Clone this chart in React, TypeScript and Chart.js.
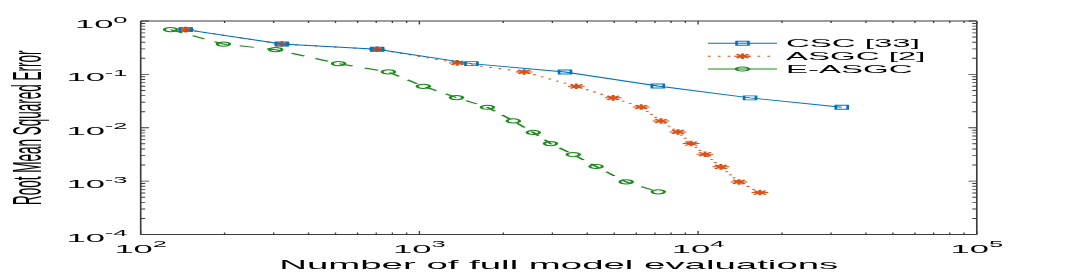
import React, { useEffect, useRef } from 'react';
import { Chart, registerables } from 'chart.js';
import { drawPoint } from 'chart.js/helpers';

Chart.register(...registerables);

// ---------------- data ----------------
const CSC_X = [145, 321, 705, 1537, 3329, 7169, 15361, 32769];
const CSC_Y = [0.69, 0.37, 0.295, 0.159, 0.111, 0.0607, 0.0363, 0.0242];

const ASGC_X = [145, 321, 705, 1368, 2377, 3656, 4955, 6250, 7360, 8470, 9440, 10590, 12070, 14020, 16670];
const ASGC_Y = [0.69, 0.37, 0.295, 0.164, 0.111, 0.0598, 0.0363, 0.0245, 0.0134, 0.00834, 0.00506, 0.00319, 0.00185, 0.000966, 0.000611];

const EASGC_X = [128, 198, 305, 513, 774, 1033, 1358, 1754, 2173, 2563, 2953, 3565, 4305, 5521, 7194];
const EASGC_Y = [0.69, 0.37, 0.29, 0.159, 0.111, 0.0598, 0.0368, 0.0242, 0.0134, 0.00816, 0.00506, 0.00315, 0.00188, 0.000966, 0.000629];

const SERIES_LABELS = ['CSC [33]', 'ASGC [2]', 'E-ASGC'];
const X_TICK_EXPONENTS = [2, 3, 4, 5];
const Y_TICK_EXPONENTS = [0, -1, -2, -3, -4];
const X_TITLE = 'Number of full model evaluations';
const Y_TITLE = 'Root Mean Squared Error';

// ---------------- styling ----------------
const FONT = "'Liberation Sans', Arial, Helvetica, sans-serif";
const BLUE = '#0072BD';
const ORANGE = '#D95319';
const GREEN = '#1a8a1a';
const AXIS_COLOR = '#3c3c3c';
const TEXT_COLOR = '#000000';
const SX = 3; // horizontal stretch of the whole figure
const W = 360; // logical chart width (before stretch)
const H = 273;

function toPoints(xs: number[], ys: number[]) {
  return xs.map((x, i) => ({ x, y: ys[i] }));
}

function logTicks(min: number, max: number) {
  const out: { value: number; major: boolean }[] = [];
  const e0 = Math.floor(Math.log10(min) + 1e-9);
  const e1 = Math.ceil(Math.log10(max) - 1e-9);
  for (let e = e0; e <= e1; e++) {
    for (let m = 1; m <= 9; m++) {
      const v = m * Math.pow(10, e);
      if (v >= min * (1 - 1e-9) && v <= max * (1 + 1e-9)) out.push({ value: v, major: m === 1 });
    }
  }
  return out;
}

const MAIN_SIZE = 11.5;
const SUP_SIZE = 8.5;
const SUP_RAISE = 5.5;

function drawPow(ctx: CanvasRenderingContext2D, exp: number, x: number, baseline: number, align: 'center' | 'right') {
  const base = '10';
  const ex = exp < 0 ? '-' + Math.abs(exp) : String(exp);
  ctx.font = `${MAIN_SIZE}px ${FONT}`;
  const wb = ctx.measureText(base).width;
  ctx.font = `${SUP_SIZE}px ${FONT}`;
  const we = ctx.measureText(ex).width;
  const total = wb + we;
  const left = align === 'center' ? x - total / 2 : x - total;
  ctx.textAlign = 'left';
  ctx.textBaseline = 'alphabetic';
  ctx.fillStyle = TEXT_COLOR;
  ctx.font = `${MAIN_SIZE}px ${FONT}`;
  ctx.fillText(base, left, baseline);
  ctx.font = `${SUP_SIZE}px ${FONT}`;
  ctx.fillText(ex, left + wb, baseline - SUP_RAISE);
}

// Stretch the whole drawing horizontally at full resolution.
const stretchPlugin = {
  id: 'stretch',
  beforeDraw(chart: any) {
    const canvas = chart.canvas as HTMLCanvasElement;
    if (canvas.width !== W * SX || canvas.height !== H) {
      canvas.width = W * SX;
      canvas.height = H;
    }
    chart.ctx.setTransform(SX, 0, 0, 1, 0, 0);
  },
};

const matlabAxes = {
  id: 'matlabAxes',
  afterDatasetsDraw(chart: any) {
    const { ctx, chartArea: a } = chart;
    const xs = chart.scales.x;
    const ys = chart.scales.y;
    ctx.save();
    ctx.setLineDash([]);
    ctx.strokeStyle = AXIS_COLOR;

    // x ticks (inward, bottom and top)
    ctx.lineWidth = 0.45;
    ctx.beginPath();
    xs.ticks.forEach((t: any) => {
      const p = xs.getPixelForValue(t.value);
      const len = t.major ? 3.5 : 2;
      ctx.moveTo(p, a.bottom);
      ctx.lineTo(p, a.bottom - len);
      ctx.moveTo(p, a.top);
      ctx.lineTo(p, a.top + len);
    });
    ctx.stroke();

    // y ticks (inward, left and right)
    ctx.lineWidth = 0.9;
    ctx.beginPath();
    ys.ticks.forEach((t: any) => {
      const p = ys.getPixelForValue(t.value);
      const len = t.major ? 2.8 : 1.5;
      ctx.moveTo(a.left, p);
      ctx.lineTo(a.left + len, p);
      ctx.moveTo(a.right, p);
      ctx.lineTo(a.right - len, p);
    });
    ctx.stroke();

    // box
    ctx.lineWidth = 1;
    ctx.beginPath();
    ctx.moveTo(a.left, a.top);
    ctx.lineTo(a.right, a.top);
    ctx.moveTo(a.left, a.bottom);
    ctx.lineTo(a.right, a.bottom);
    ctx.stroke();
    ctx.lineWidth = 0.55;
    ctx.beginPath();
    ctx.moveTo(a.left, a.top);
    ctx.lineTo(a.left, a.bottom);
    ctx.moveTo(a.right, a.top);
    ctx.lineTo(a.right, a.bottom);
    ctx.stroke();

    // tick labels
    X_TICK_EXPONENTS.forEach((e) => {
      const p = xs.getPixelForValue(Math.pow(10, e));
      drawPow(ctx, e, p, a.bottom + 18, 'center');
    });
    Y_TICK_EXPONENTS.forEach((e) => {
      const p = ys.getPixelForValue(Math.pow(10, e));
      drawPow(ctx, e, 42.5, p + 7, 'right');
    });

    // legend
    const rowsY = [43.3, 56.2, 69];
    const x0 = 236;
    const x1 = 259;
    const xm = 247.5;
    const textX = 262;
    chart.data.datasets.forEach((ds: any, i: number) => {
      const y = rowsY[i];
      ctx.strokeStyle = ds.borderColor;
      ctx.lineWidth = ds.borderWidth;
      ctx.setLineDash(i === 1 ? ds.borderDash : []);
      ctx.beginPath();
      ctx.moveTo(x0, y);
      ctx.lineTo(x1, y);
      ctx.stroke();
      ctx.setLineDash([]);
      ctx.lineWidth = ds.pointBorderWidth;
      ctx.fillStyle = 'rgba(255,255,255,0)';
      drawPoint(ctx, { pointStyle: ds.pointStyle, radius: ds.pointRadius, rotation: 0, borderWidth: ds.pointBorderWidth } as any, xm, y);
      ctx.fillStyle = TEXT_COLOR;
      ctx.font = `11px ${FONT}`;
      ctx.textAlign = 'left';
      ctx.textBaseline = 'middle';
      ctx.fillText(ds.label, textX, y + 0.5);
    });
    ctx.restore();
  },
};

export default function App() {
  const ref = useRef<HTMLCanvasElement>(null);

  useEffect(() => {
    if (!ref.current) return;
    const chart = new Chart(ref.current, {
      type: 'line',
      data: {
        datasets: [
          {
            label: SERIES_LABELS[0],
            data: toPoints(CSC_X, CSC_Y),
            borderColor: BLUE,
            borderWidth: 1,
            backgroundColor: 'rgba(255,255,255,0)',
            pointStyle: 'rect',
            pointRadius: 2.8,
            pointBorderWidth: 0.9,
            pointBorderColor: BLUE,
            pointBackgroundColor: 'rgba(255,255,255,0)',
            tension: 0,
          },
          {
            label: SERIES_LABELS[1],
            data: toPoints(ASGC_X, ASGC_Y),
            borderColor: ORANGE,
            borderWidth: 1,
            borderDash: [0.9, 2.4],
            backgroundColor: 'rgba(255,255,255,0)',
            pointStyle: 'star',
            pointRadius: 2.8,
            pointBorderWidth: 1,
            pointBorderColor: ORANGE,
            pointBackgroundColor: 'rgba(255,255,255,0)',
            tension: 0,
          },
          {
            label: SERIES_LABELS[2],
            data: toPoints(EASGC_X, EASGC_Y),
            borderColor: GREEN,
            borderWidth: 1,
            borderDash: [5, 4.5],
            backgroundColor: 'rgba(255,255,255,0)',
            pointStyle: 'circle',
            pointRadius: 2.1,
            pointBorderWidth: 1,
            pointBorderColor: GREEN,
            pointBackgroundColor: 'rgba(255,255,255,0)',
            tension: 0,
          },
        ] as any,
      },
      options: {
        responsive: false,
        maintainAspectRatio: false,
        devicePixelRatio: 1,
        animation: false,
        events: [],
        layout: { padding: { left: 0, right: W - 325.6, top: 21, bottom: 0 } },
        plugins: {
          legend: { display: false },
          tooltip: { enabled: false },
        },
        scales: {
          x: {
            type: 'logarithmic',
            min: 100,
            max: 100000,
            grid: { display: false },
            border: { display: false },
            ticks: { display: false },
            afterBuildTicks: (s: any) => {
              s.ticks = logTicks(s.min, s.max);
            },
            afterFit: (s: any) => {
              s.height = 38.5;
            },
            title: {
              display: true,
              text: X_TITLE,
              color: TEXT_COLOR,
              font: { family: FONT, size: 12.8 },
              padding: { top: 0, bottom: 0 },
            },
          },
          y: {
            type: 'logarithmic',
            min: 0.0001,
            max: 1,
            grid: { display: false },
            border: { display: false },
            ticks: { display: false },
            afterBuildTicks: (s: any) => {
              s.ticks = logTicks(s.min, s.max);
            },
            afterFit: (s: any) => {
              s.width = 46.9;
            },
            title: {
              display: true,
              text: Y_TITLE,
              color: TEXT_COLOR,
              font: { family: FONT, size: 13.5 },
              padding: { top: 2, bottom: 0 },
            },
          },
        } as any,
      },
      plugins: [stretchPlugin as any, matlabAxes as any],
    });
    return () => chart.destroy();
  }, []);

  return (
    <canvas
      ref={ref}
      width={W}
      height={H}
      style={{ position: 'absolute', left: 0, top: 0, display: 'block', width: W * SX, height: H }}
    />
  );
}
